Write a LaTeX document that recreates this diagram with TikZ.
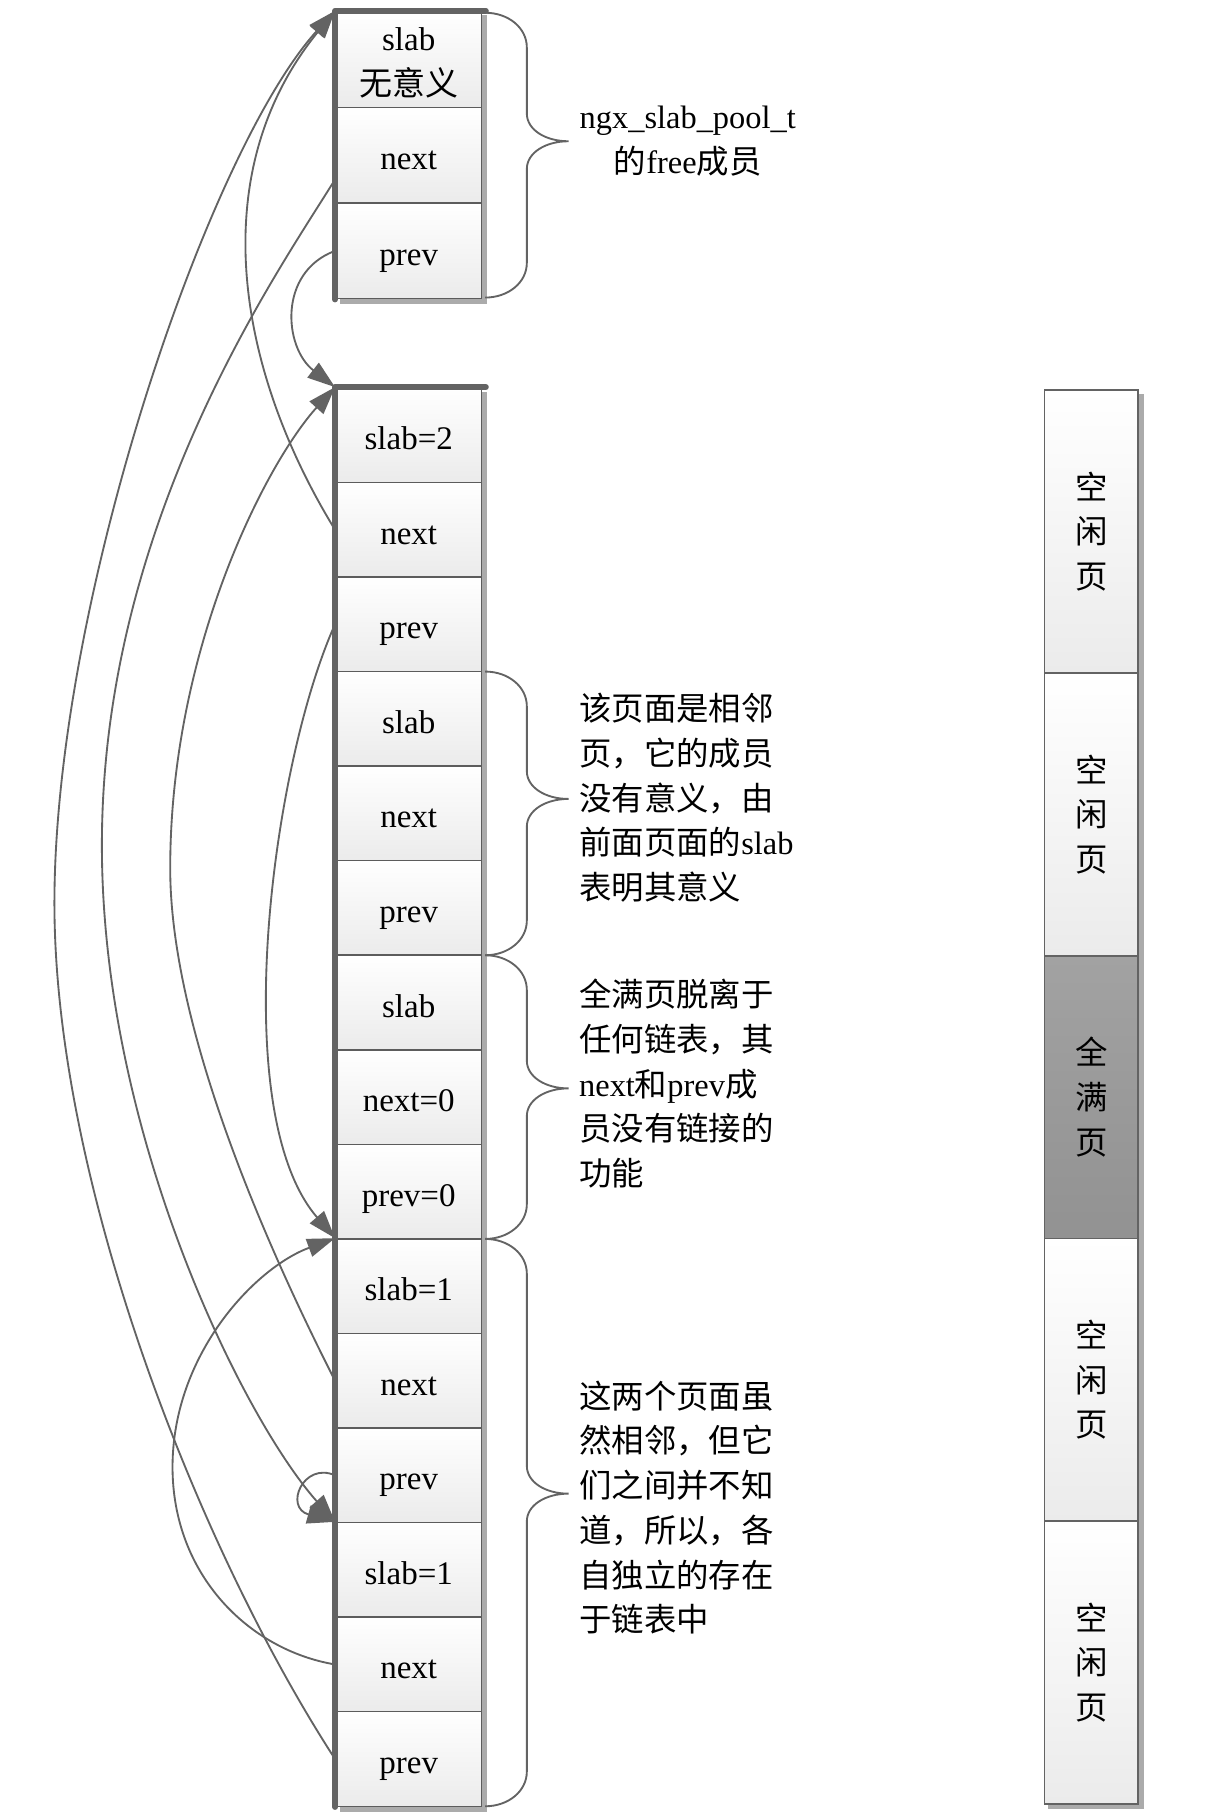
\documentclass[tikz,border=0pt]{standalone}
\usepackage{fontspec}
\setmainfont{Liberation Serif}
\newfontfamily\cjk{Noto Sans CJK SC}
\usetikzlibrary{arrows.meta,calc}
\pgfdeclarelayer{bg}
\pgfsetlayers{bg,main}
\definecolor{linec}{HTML}{636363}
\definecolor{cellb}{HTML}{5C5C5C}
\definecolor{shadowc}{HTML}{ABABAB}
\definecolor{cellbot}{HTML}{EBEBEB}
\definecolor{fulltop}{HTML}{A2A2A2}
\definecolor{fullbot}{HTML}{929292}
\newcommand\mybrace[4]{%
  \draw[bracec] (#1,#2) .. controls ({#1+20},#2) and ({#1+36},{#2+13}) .. ({#1+36},{#2+30})
   -- ({#1+36},{#4-24}) .. controls ({#1+36},{#4-10}) and ({#1+52},#4) .. ({#1+72},#4)
   .. controls ({#1+52},#4) and ({#1+36},{#4+10}) .. ({#1+36},{#4+24})
   -- ({#1+36},{#3-30}) .. controls ({#1+36},{#3-13}) and ({#1+20},#3) .. (#1,#3);}
\newcommand\lowered[1]{\raisebox{-3pt}[\height][\depth]{#1}}
\tikzset{
  cell/.style={rectangle, draw=cellb, line width=1.3pt, top color=white, bottom color=cellbot,
    minimum width=126pt, minimum height=81.67pt, inner sep=0pt,
    font=\fontsize{28.5}{39}\selectfont, align=center, text=black},
  cellone/.style={cell, text height=27pt, text depth=2pt},
  pagecell/.style={rectangle, draw=linec, line width=1.5pt, top color=white, bottom color=cellbot,
    minimum width=81pt, minimum height=244.2pt, inner sep=0pt,
    font=\cjk\fontsize{28}{38.5}\selectfont, align=center, text=black},
  link/.style={draw=linec, line width=1.6pt, -{Triangle[length=24pt,width=16pt]}},
  colborder/.style={draw=linec, line width=5pt, line cap=round, line join=round},
  bracec/.style={draw=linec, line width=1.6pt},
  note/.style={font=\fontsize{28}{38.6}\selectfont, align=left, inner sep=0pt, text=black}
}
\begin{document}
\begin{tikzpicture}[x=1pt,y=-1pt]
\useasboundingbox (0,0) rectangle (1050,1571);
\begin{pgfonlayer}{bg}
  \fill[white] (0,0) rectangle (1050,1571);
\end{pgfonlayer}

% free member of ngx_slab_pool_t
\node[cell, minimum height=82.67pt] (t1) at (353,51.33) {\lowered{slab}\\\lowered{\cjk 无意义}};
\node[cellone, minimum height=82.67pt] (t2) at (353,134) {next};
\node[cellone, minimum height=82.67pt] (t3) at (353,216.67) {prev};

% page descriptors
\foreach \lab [count=\i] in {slab=2,next,prev,slab,next,prev,slab,next=0,prev=0,slab=1,next,prev,slab=1,next,prev}
  \node[cellone] (m\i) at (353,{335+81.667*(\i-0.5)}) {\lab};

% pages
\node[pagecell] (r1) at (942.5,459.1) {空\\闲\\页};
\node[pagecell] (r2) at (942.5,703.3) {空\\闲\\页};
\node[pagecell, top color=fulltop, bottom color=fullbot] (r3) at (942.5,947.5) {全\\满\\页};
\node[pagecell] (r4) at (942.5,1191.7) {空\\闲\\页};
\node[pagecell] (r5) at (942.5,1435.9) {空\\闲\\页};

\begin{pgfonlayer}{bg}
  \fill[shadowc] ($(t1.north west)+(4,4)$) rectangle ($(t3.south east)+(4,4)$);
  \fill[shadowc] ($(m1.north west)+(4,4)$) rectangle ($(m3.south east)+(4,4)$);
  \fill[shadowc] ($(m4.north west)+(4,4)$) rectangle ($(m6.south east)+(4,4)$);
  \fill[shadowc] ($(m7.north west)+(4,4)$) rectangle ($(m9.south east)+(4,4)$);
  \fill[shadowc] ($(m10.north west)+(4,4)$) rectangle ($(m12.south east)+(4,4)$);
  \fill[shadowc] ($(m13.north west)+(4,4)$) rectangle ($(m15.south east)+(4,4)$);
  \fill[shadowc] ($(r1.north west)+(4,4)$) rectangle ($(r5.south east)+(4,4)$);
\end{pgfonlayer}

% thick column borders
\draw[colborder] (t3.south west) -- (t1.north west) -- ($(t1.north east)+(3,0)$);
\draw[colborder] (m15.south west) -- (m1.north west) -- ($(m1.north east)+(3,0)$);

% braces
\mybrace{419}{11}{257}{122}
\mybrace{419}{580}{825}{690}
\mybrace{419}{825}{1070}{940}
\mybrace{419}{1070}{1560}{1290}

% notes
\node[note, align=center] (n0) at (594,122) {ngx\_slab\_pool\_t\\{\cjk 的}free{\cjk 成员}};
\node[note, anchor=west] (n1) at (500,689) {{\cjk 该页面是相邻}\\{\cjk 页，它的成员}\\{\cjk 没有意义，由}\\{\cjk 前面页面的}slab\\{\cjk 表明其意义}};
\node[note, anchor=west] (n2) at (500,936) {{\cjk 全满页脱离于}\\{\cjk 任何链表，其}\\next{\cjk 和}prev{\cjk 成}\\{\cjk 员没有链接的}\\{\cjk 功能}};
\node[note, anchor=west] (n3) at (500,1302) {{\cjk 这两个页面虽}\\{\cjk 然相邻，但它}\\{\cjk 们之间并不知}\\{\cjk 道，所以，各}\\{\cjk 自独立的存在}\\{\cjk 于链表中}};

% links
\draw[link] (m15.west) .. controls (170,1335) and (47,1020) .. (47,780) .. controls (47,520) and (180,130) .. (t1.north west);
\draw[link] ($(t2.west)+(0,21)$) .. controls (240,235) and (88,450) .. (88,730) .. controls (88,980) and (210,1225) .. (m13.north west);
\draw[link] (m2.west) .. controls (205,320) and (175,150) .. (t1.north west);
\draw[link] (t3.west) .. controls (240,235) and (245,300) .. (m1.north west);
\draw[link] (m11.west) .. controls (245,1105) and (147,900) .. (147,750) .. controls (147,560) and (230,400) .. (m1.north west);
\draw[link] (m3.west) .. controls (235,660) and (195,960) .. (m10.north west);
\draw[link] (m14.west) .. controls (215,1425) and (149,1360) .. (149,1267) .. controls (149,1170) and (220,1095) .. (m10.north west);
\draw[link] (m12.west) .. controls (262,1262) and (245,1302) .. (m13.north west);
\end{tikzpicture}
\end{document}
